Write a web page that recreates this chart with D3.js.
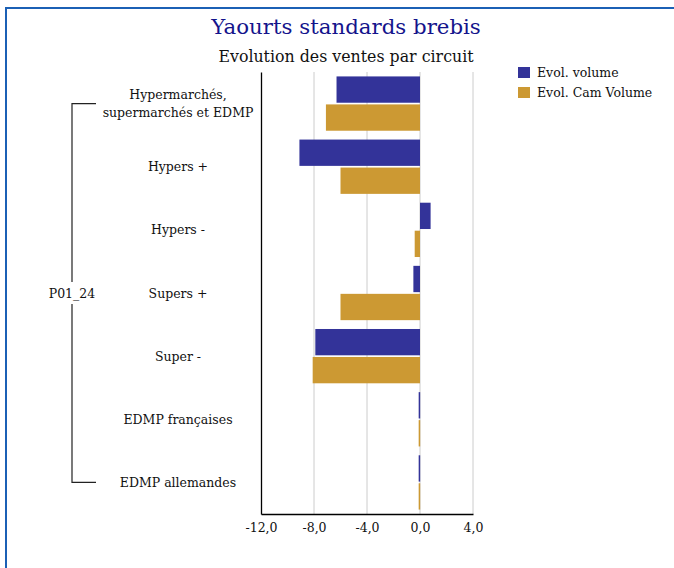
<!DOCTYPE html>
<html>
<head>
<meta charset="utf-8">
<script src="https://cdn.jsdelivr.net/npm/d3@7"></script>
<style>
  html, body { margin: 0; padding: 0; background: #fff; }
  svg { display: block; }
  text { font-family: "DejaVu Serif", serif; }
</style>
</head>
<body>
<svg id="chart" width="674" height="568"></svg>
<script>
const categories = [
  ["Hypermarchés,", "supermarchés et EDMP"],
  ["Hypers +"],
  ["Hypers -"],
  ["Supers +"],
  ["Super -"],
  ["EDMP françaises"],
  ["EDMP allemandes"]
];
const seriesNames = ["Evol. volume", "Evol. Cam Volume"];
const evolVolume    = [-6.3, -9.1,  0.8, -0.5, -7.9, -0.1, -0.1];
const evolCamVolume = [-7.1, -6.0, -0.4, -6.0, -8.1, -0.1, -0.1];
const xTicks = [-12, -8, -4, 0, 4];
const xTickLabels = ["-12,0", "-8,0", "-4,0", "0,0", "4,0"];
const groupLabel = "P01_24";
const title = "Yaourts standards brebis";
const subtitle = "Evolution des ventes par circuit";
const colors = ["#333399", "#cc9933"];

const svg = d3.select("#chart");

// frame
svg.append("path")
  .attr("d", "M6,568 L6,8 L674,8")
  .attr("fill", "none")
  .attr("stroke", "#1b60b5")
  .attr("stroke-width", 2);

// titles
svg.append("text").attr("x", 346).attr("y", 34)
  .attr("text-anchor", "middle").attr("font-size", 21.3).attr("fill", "#14148c")
  .text(title);
svg.append("text").attr("x", 346).attr("y", 62)
  .attr("text-anchor", "middle").attr("font-size", 15.8).attr("fill", "#111")
  .text(subtitle);

const x = d3.scaleLinear().domain([-12, 4]).range([261, 473]);
const idx = categories.map((d, i) => i);
const y = d3.scaleBand().domain(idx).range([72, 514]).paddingInner(0.14).paddingOuter(0.07);
const sub = d3.scaleBand().domain([0, 1]).range([0, y.bandwidth()]).paddingInner(0.06);

// gridlines
svg.append("g").selectAll("line").data(xTicks.filter(t => t > -12)).join("line")
  .attr("x1", d => x(d)).attr("x2", d => x(d))
  .attr("y1", 72).attr("y2", 514)
  .attr("stroke", "#cccccc").attr("stroke-width", 1);

// bars
const data = idx.map(i => [evolVolume[i], evolCamVolume[i]]);
const g = svg.append("g");
data.forEach((vals, i) => {
  vals.forEach((v, s) => {
    g.append("rect")
      .attr("x", x(Math.min(0, v)))
      .attr("width", Math.max(1.5, Math.abs(x(v) - x(0))))
      .attr("y", y(i) + sub(s))
      .attr("height", sub.bandwidth())
      .attr("fill", colors[s]);
  });
});

// axes
const xAxis = d3.axisBottom(x).tickValues(xTicks)
  .tickFormat((d, i) => xTickLabels[i]).tickSize(0).tickPadding(9);
const ax = svg.append("g").attr("transform", "translate(0,514)").call(xAxis);
ax.select(".domain").attr("stroke", "#000").attr("stroke-width", 1.3);
ax.selectAll("text").attr("font-size", 12.5).attr("fill", "#111")
  .attr("font-family", "DejaVu Serif, serif");

const yAxis = d3.axisLeft(y).tickSize(0).tickFormat("");
const ay = svg.append("g").attr("transform", "translate(261,0)").call(yAxis);
ay.select(".domain").attr("stroke", "#000").attr("stroke-width", 1.3);

// category labels
const labG = svg.append("g");
categories.forEach((lines, i) => {
  const cy = y(i) + y.bandwidth() / 2;
  const t = labG.append("text").attr("text-anchor", "middle")
    .attr("font-size", 12.5).attr("fill", "#111");
  const n = lines.length;
  lines.forEach((ln, j) => {
    t.append("tspan").attr("x", 178)
      .attr("y", cy + 4.5 + (j - (n - 1) / 2) * 17.5)
      .text(ln);
  });
});

// bracket
const yTop = y(0) + y.bandwidth() / 2;
const yBot = y(idx.length - 1) + y.bandwidth() / 2;
const yMid = (yTop + yBot) / 2;
const br = svg.append("g").attr("stroke", "#222").attr("fill", "none").attr("stroke-width", 1.2);
br.append("path").attr("d", `M96,${yTop} L72,${yTop} L72,${yMid - 11}`);
br.append("path").attr("d", `M72,${yMid + 11} L72,${yBot} L96,${yBot}`);
svg.append("text").attr("x", 72).attr("y", yMid + 4.5).attr("text-anchor", "middle")
  .attr("font-size", 12.5).attr("fill", "#111").text(groupLabel);

// legend
const lg = svg.append("g");
seriesNames.forEach((name, i) => {
  lg.append("rect").attr("x", 518).attr("y", 67 + i * 20).attr("width", 12).attr("height", 11)
    .attr("fill", colors[i]);
  lg.append("text").attr("x", 537).attr("y", 77 + i * 20).attr("font-size", 12.5)
    .attr("fill", "#111").text(name);
});
</script>
</body>
</html>
